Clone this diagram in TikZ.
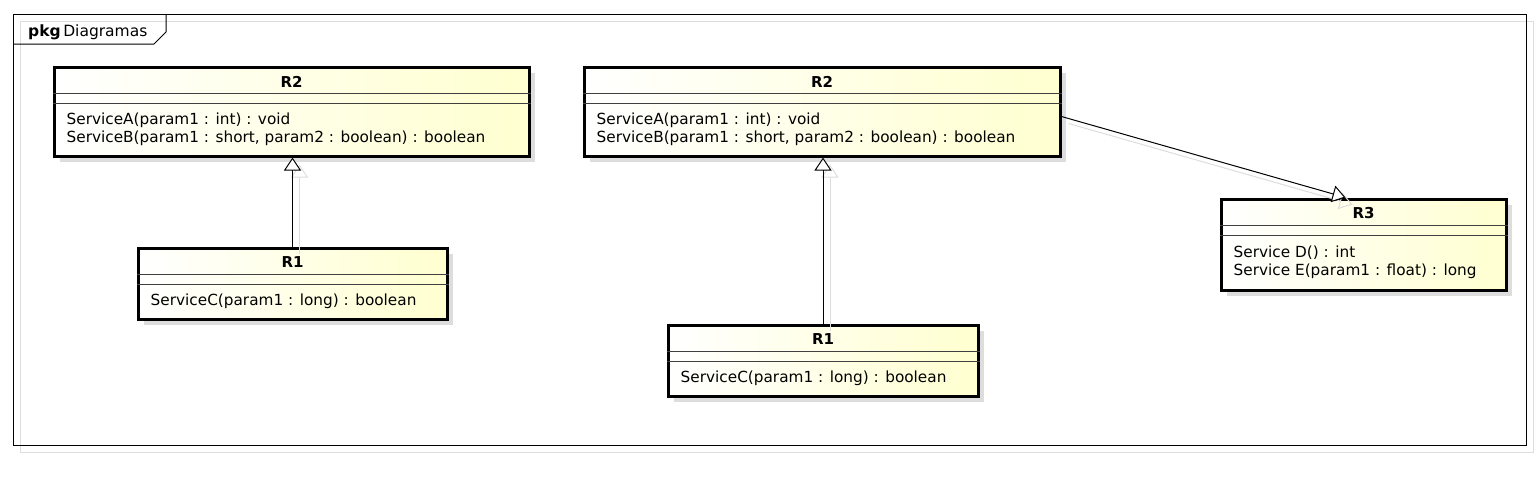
\documentclass[tikz,border=0pt]{standalone}
\usepackage{fontspec}
\setmainfont{DejaVu Sans}
\usetikzlibrary{arrows.meta, positioning, shadows, calc}
\definecolor{umlyellow}{RGB}{255,255,208}
\definecolor{shadowgrey}{RGB}{221,221,221}

\begin{document}
\begin{tikzpicture}[x=1pt, y=-1pt,
    classbox/.style={draw, line width=3pt, left color=white, right color=umlyellow, inner sep=0pt,
        drop shadow={shadow xshift=6pt, shadow yshift=-6pt, fill=shadowgrey, opacity=1}},
    classtitle/.style={font=\bfseries\fontsize{15}{18}\selectfont, inner sep=0pt},
    methods/.style={font=\fontsize{15.3}{17.5}\selectfont, align=left, anchor=west, inner sep=0pt},
    divider/.style={line width=1pt, black!75},
    realize/.style={-{Triangle[fill=white, length=13pt, width=17pt]}, line width=1pt},
    realizeshadow/.style={-{Triangle[open, length=13pt, width=17pt]}, line width=1pt, shadowgrey,
        transform canvas={shift={(7pt,-7pt)}}}]
    \useasboundingbox (0,0) rectangle (1540,485);

    % Package frame
    \draw[shadowgrey, line width=1pt] (20,21) rectangle (1533,452);
    \draw[line width=1pt] (13,14) rectangle (1526,445);
    \draw[line width=1pt] (13,44) -- (154,44) -- (166,32) -- (166,14);
    \node[anchor=base west, inner sep=0pt, font=\fontsize{15.5}{18}\selectfont] (pkg) at (28,36) {\textbf{pkg}\,Diagramas};

    % Left diagram
    \node[classbox, minimum width=475, minimum height=89] (r2a) at (291.5,111.5) {};
    \node[classtitle] (r2a-title) at ($(r2a.north)+(0,16)$) {R2};
    \draw[divider] ($(r2a.north west)+(0,28)$) -- ($(r2a.north east)+(0,28)$);
    \draw[divider] ($(r2a.north west)+(0,38)$) -- ($(r2a.north east)+(0,38)$);
    \node[methods] (r2a-ops) at ($(r2a.north west)+(14,64)$) {ServiceA(param1 : int) : void\\ServiceB(param1 : short, param2 : boolean) : boolean};

    \node[classbox, minimum width=309, minimum height=71] (r1a) at (292.5,283.5) {};
    \node[classtitle] (r1a-title) at ($(r1a.north)+(0,16)$) {R1};
    \draw[divider] ($(r1a.north west)+(0,28)$) -- ($(r1a.north east)+(0,28)$);
    \draw[divider] ($(r1a.north west)+(0,38)$) -- ($(r1a.north east)+(0,38)$);
    \node[methods] (r1a-ops) at ($(r1a.north west)+(14,55)$) {ServiceC(param1 : long) : boolean};

    % Right diagram
    \node[classbox, minimum width=476, minimum height=89] (r2b) at (822,111.5) {};
    \node[classtitle] (r2b-title) at ($(r2b.north)+(0,16)$) {R2};
    \draw[divider] ($(r2b.north west)+(0,28)$) -- ($(r2b.north east)+(0,28)$);
    \draw[divider] ($(r2b.north west)+(0,38)$) -- ($(r2b.north east)+(0,38)$);
    \node[methods] (r2b-ops) at ($(r2b.north west)+(14,64)$) {ServiceA(param1 : int) : void\\ServiceB(param1 : short, param2 : boolean) : boolean};

    \node[classbox, minimum width=310, minimum height=71] (r1b) at (823,360.5) {};
    \node[classtitle] (r1b-title) at ($(r1b.north)+(0,16)$) {R1};
    \draw[divider] ($(r1b.north west)+(0,28)$) -- ($(r1b.north east)+(0,28)$);
    \draw[divider] ($(r1b.north west)+(0,38)$) -- ($(r1b.north east)+(0,38)$);
    \node[methods] (r1b-ops) at ($(r1b.north west)+(14,55)$) {ServiceC(param1 : long) : boolean};

    \node[classbox, minimum width=285, minimum height=91] (r3) at (1363.5,244.5) {};
    \node[classtitle] (r3-title) at ($(r3.north)+(0,16)$) {R3};
    \draw[divider] ($(r3.north west)+(0,28)$) -- ($(r3.north east)+(0,28)$);
    \draw[divider] ($(r3.north west)+(0,38)$) -- ($(r3.north east)+(0,38)$);
    \node[methods] (r3-ops) at ($(r3.north west)+(14,65)$) {Service D() : int\\Service E(param1 : float) : long};

    % Generalizations
    \draw[realizeshadow] (r1a.north) -- (r1a.north |- r2a.south);
    \draw[realizeshadow] (r1b.north) -- (r1b.north |- r2b.south);
    \draw[realizeshadow] ([yshift=-5pt]r2b.east) -- ([xshift=-18pt]r3.north);
    \draw[realize] (r1a.north) -- (r1a.north |- r2a.south);
    \draw[realize] (r1b.north) -- (r1b.north |- r2b.south);
    \draw[realize] ([yshift=-5pt]r2b.east) -- ([xshift=-18pt]r3.north);
\end{tikzpicture}
\end{document}
